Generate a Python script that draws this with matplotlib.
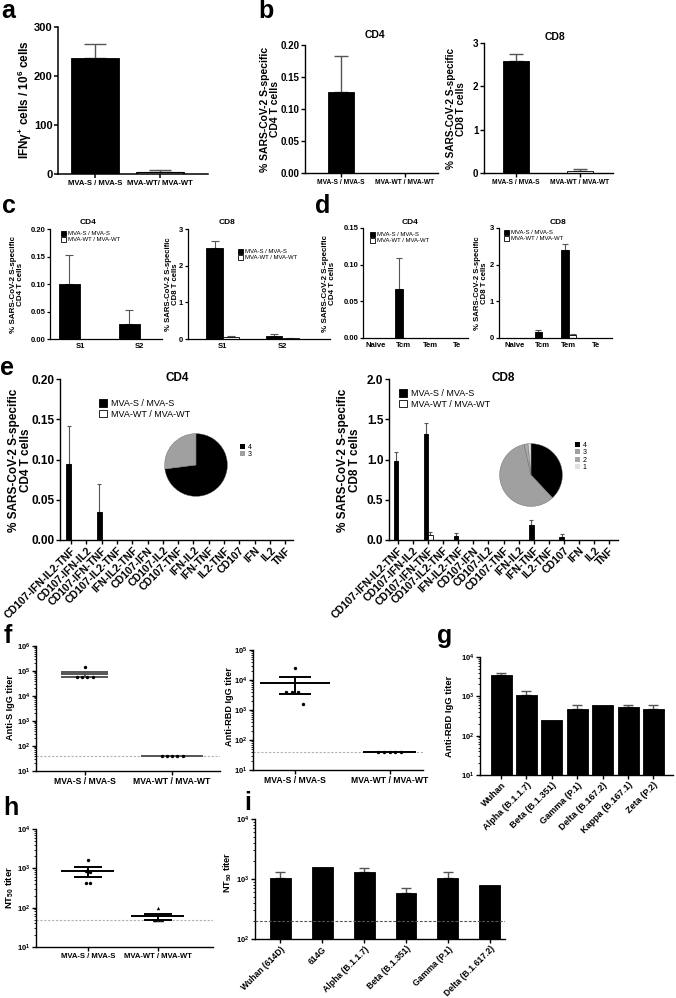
import numpy as np
import matplotlib
matplotlib.use("Agg")
import matplotlib.pyplot as plt
from matplotlib.patches import Patch
from matplotlib.ticker import FormatStrFormatter, LogLocator, NullFormatter

plt.rcParams.update({
    'font.family': ['Liberation Sans', 'DejaVu Sans'],
    'font.weight': 'bold',
    'axes.labelweight': 'bold',
    'axes.titleweight': 'bold',
    'axes.facecolor': 'none',
    'mathtext.fontset': 'custom',
    'mathtext.rm': 'Liberation Sans:bold',
    'mathtext.it': 'Liberation Sans:italic:bold',
    'mathtext.bf': 'Liberation Sans:bold',
    'mathtext.sf': 'Liberation Sans:bold',
    'mathtext.default': 'rm',
})

# ---------------- data ----------------
groups = ["MVA-S / MVA-S", "MVA-WT / MVA-WT"]
groups_a = ["MVA-S / MVA-S", "MVA-WT/ MVA-WT"]
a_vals = [237, 4]
a_sem = [28, 4]

b_cd4_vals = [0.127, 0.0]
b_cd4_sem = [0.056, 0.0]
b_cd8_vals = [2.58, 0.046]
b_cd8_sem = [0.17, 0.05]

c_cats = ["S1", "S2"]
c_cd4_s = [0.100, 0.027]
c_cd4_s_sem = [0.052, 0.026]
c_cd4_wt = [0.0, 0.0]
c_cd4_wt_sem = [0.0, 0.0]
c_cd8_s = [2.48, 0.09]
c_cd8_s_sem = [0.19, 0.045]
c_cd8_wt = [0.055, 0.018]
c_cd8_wt_sem = [0.03, 0.018]

d_cats = ["Naive", "Tcm", "Tem", "Te"]
d_cd4_s = [0.0, 0.067, 0.0, 0.0]
d_cd4_s_sem = [0.0, 0.042, 0.0, 0.0]
d_cd4_wt = [0.0, 0.0, 0.0, 0.0]
d_cd8_s = [0.0, 0.163, 2.40, 0.0]
d_cd8_s_sem = [0.0, 0.063, 0.17, 0.0]
d_cd8_wt = [0.0, 0.0, 0.07, 0.0]
d_cd8_wt_sem = [0.0, 0.0, 0.03, 0.0]

e_cats = ["CD107-IFN-IL2-TNF", "CD107-IFN-IL2", "CD107-IFN-TNF", "CD107-IL2-TNF",
          "IFN-IL2-TNF", "CD107-IFN", "CD107-IL2", "CD107-TNF", "IFN-IL2", "IFN-TNF",
          "IL2-TNF", "CD107", "IFN", "IL2", "TNF"]
e_cd4_s = [0.094, 0, 0.035, 0, 0, 0, 0, 0, 0, 0, 0, 0, 0, 0, 0]
e_cd4_s_sem = [0.047, 0, 0.035, 0, 0, 0, 0, 0, 0, 0, 0, 0, 0, 0, 0]
e_cd4_wt = [0] * 15
e_cd8_s = [0.98, 0, 1.32, 0, 0.054, 0, 0, 0, 0, 0.19, 0, 0.042, 0, 0, 0]
e_cd8_s_sem = [0.11, 0, 0.135, 0, 0.03, 0, 0, 0, 0, 0.06, 0, 0.033, 0, 0, 0]
e_cd8_wt = [0, 0, 0.067, 0, 0, 0, 0, 0, 0, 0, 0, 0, 0, 0, 0]
e_cd8_wt_sem = [0, 0, 0.03, 0, 0, 0, 0, 0, 0, 0, 0, 0, 0, 0, 0]

pie_cd4_labels = ["4", "3"]
pie_cd4_vals = [73, 27]
pie_cd8_labels = ["4", "3", "2", "1"]
pie_cd8_vals = [38, 58.5, 2, 1.5]

f_antiS_s = [1.45e5, 6.0e4, 6.0e4, 6.0e4, 6.0e4]
f_antiS_wt = [40, 40, 40, 40, 40]
f_rbd_s = [2.6e4, 4.1e3, 4.1e3, 4.1e3, 1.6e3]
f_rbd_wt = [40, 40, 40, 40, 40]
f_cutoff = 40

g_cats = ["Wuhan", "Alpha (B.1.1.7)", "Beta (B.1.351)", "Gamma (P.1)",
          "Delta (B.167.2)", "Kappa (B.167.1)", "Zeta (P.2)"]
g_vals = [3470, 1075, 245, 490, 610, 545, 490]
g_sem = [530, 305, 0, 125, 0, 70, 125]

h_s = [1660, 850, 800, 425, 425]
h_wt = [100, 50, 50, 50, 50]
h_cutoff = 50

i_cats = ["Wuhan (614D)", "614G", "Alpha (B.1.1.7)", "Beta (B.1.351)",
          "Gamma (P.1)", "Delta (B.1.617.2)"]
i_vals = [1040, 1580, 1300, 590, 1040, 790]
i_sem = [290, 0, 250, 120, 290, 0]
i_cutoff = 200

# ---------------- layout helpers ----------------
W, H = 676, 998
fig = plt.figure(figsize=(W / 100, H / 100), dpi=100)
ECOL = '#555555'


def axpx(l, t, r, b):
    return fig.add_axes([l / W, 1 - b / H, (r - l) / W, (b - t) / H])


def style(ax, fs=7, lw=1.0, tl=3):
    for s in ['top', 'right']:
        ax.spines[s].set_visible(False)
    for s in ['left', 'bottom']:
        ax.spines[s].set_linewidth(lw)
    ax.tick_params(width=lw, length=tl, labelsize=fs, pad=1)


def ftext(x, y, s, fs, **kw):
    kw.setdefault('ha', 'center')
    kw.setdefault('va', 'center')
    fig.text(x / W, 1 - y / H, s, fontsize=fs, fontweight='bold', **kw)


def ylab(x, y, s, fs, ls=1.1):
    fig.text(x / W, 1 - y / H, s, fontsize=fs, fontweight='bold', rotation=90,
             ha='center', va='center', linespacing=ls, multialignment='center')


def letter(x, y, s):
    fig.text(x / W, 1 - y / H, s, fontsize=18, fontweight='bold', ha='left', va='baseline')


def legend2(x, y, fs, hl=0.9, labels=("MVA-S / MVA-S", "MVA-WT / MVA-WT"),
            colors=('black', 'white'), edge='black', sp=0.15):
    handles = [Patch(facecolor=c, edgecolor=edge, linewidth=0.6) for c in colors]
    fig.legend(handles, labels, loc='upper left', bbox_to_anchor=(x / W, 1 - y / H),
               frameon=False, prop={'size': fs, 'weight': 'normal'},
               handlelength=hl, handleheight=hl, handletextpad=0.4,
               labelspacing=sp, borderpad=0, borderaxespad=0)


def ebar(ax, x, vals, sems, w, color, elw=1.0, cap=3):
    ax.bar(x, vals, w, color=color, edgecolor='black', linewidth=0.6, zorder=2)
    vals = np.asarray(vals, float)
    sems = np.asarray(sems, float)
    m = sems > 0
    xs = np.asarray(x, float)[m]
    ax.errorbar(xs, vals[m], yerr=[np.zeros(m.sum()), sems[m]], fmt='none',
                ecolor=ECOL, elinewidth=elw, capsize=cap, capthick=elw, zorder=1)


def grouped(ax, xs, s, ssem, wt, wtsem, w, cap=2):
    xs = np.asarray(xs, float)
    ebar(ax, xs - w / 2, s, ssem, w, 'black', elw=0.8, cap=cap)
    ebar(ax, xs + w / 2, wt, wtsem, w, 'white', elw=0.8, cap=cap)


# ---------------- panel a ----------------
ax = axpx(58, 27, 208, 174)
style(ax, fs=8, lw=1.1)
x = np.arange(2)
ebar(ax, x, a_vals, a_sem, 0.74, 'black', elw=1.0, cap=8)
ax.bar(1, a_vals[1], 0.7, color='white', edgecolor='black', linewidth=0.8, zorder=2)
ax.set_xlim(-0.57, 1.74)
ax.set_ylim(0, 300)
ax.set_yticks([0, 100, 200, 300])
ax.set_xticks(x)
ax.set_xticklabels(groups_a, fontsize=5.5)
ax.tick_params(axis='x', length=3)
ylab(25, 100, r'IFN$\gamma^{+}$ cells / 10$^{6}$ cells', 8.5)
letter(1, 18, 'a')

# ---------------- panel b ----------------
ax = axpx(305, 45, 438, 173)
style(ax, fs=7, lw=1.0)
ebar(ax, x, b_cd4_vals, b_cd4_sem, 0.4, 'black', cap=5)
ax.set_xlim(-0.56, 1.52)
ax.set_ylim(0, 0.2)
ax.set_yticks([0, 0.05, 0.10, 0.15, 0.20])
ax.yaxis.set_major_formatter(FormatStrFormatter('%.2f'))
ax.set_xticks(x)
ax.set_xticklabels(groups, fontsize=4.8)
ftext(375, 35, 'CD4', 7.5)
ylab(270, 109, '% SARS-CoV-2 S-specific\nCD4 T cells', 7.5)

ax = axpx(484, 43, 613, 173)
style(ax, fs=7, lw=1.0)
ebar(ax, [0], b_cd8_vals[:1], b_cd8_sem[:1], 0.4, 'black', cap=5)
ebar(ax, [1], b_cd8_vals[1:], b_cd8_sem[1:], 0.4, 'white', cap=5)
ax.set_xlim(-0.5, 1.52)
ax.set_ylim(0, 3)
ax.set_yticks([0, 1, 2, 3])
ax.set_xticks(x)
ax.set_xticklabels(groups, fontsize=4.8)
ftext(555, 37, 'CD8', 7.5)
ylab(456, 109, '% SARS-CoV-2 S-specific\nCD8 T cells', 7.2)
letter(258, 18, 'b')

# ---------------- panel c ----------------
ax = axpx(50, 229, 162, 339)
style(ax, fs=5.5, lw=0.9, tl=2.5)
grouped(ax, np.arange(2), c_cd4_s, c_cd4_s_sem, c_cd4_wt, c_cd4_wt_sem, 0.35, cap=3)
ax.set_xlim(-0.5, 1.37)
ax.set_ylim(0, 0.2)
ax.set_yticks([0, 0.05, 0.10, 0.15, 0.20])
ax.yaxis.set_major_formatter(FormatStrFormatter('%.2f'))
ax.set_xticks([0, 1])
ax.set_xticklabels(c_cats, fontsize=5.5)
ax.tick_params(axis='x', length=0, pad=3)
ftext(88, 222, 'CD4', 6)
ylab(17, 284, '% SARS-CoV-2 S-specific\nCD4 T cells', 5.8)
legend2(61, 231, 4.3, hl=0.8, sp=0.1)

ax = axpx(188, 229, 330, 339)
style(ax, fs=5.5, lw=0.9, tl=2.5)
grouped(ax, np.arange(2), c_cd8_s, c_cd8_s_sem, c_cd8_wt, c_cd8_wt_sem, 0.28, cap=3)
ax.set_xlim(-0.59, 1.81)
ax.set_ylim(0, 3)
ax.set_yticks([0, 1, 2, 3])
ax.set_xticks([0, 1])
ax.set_xticklabels(c_cats, fontsize=5.5)
ax.tick_params(axis='x', length=0, pad=3)
ftext(227, 222, 'CD8', 6)
ylab(172, 284, '% SARS-CoV-2 S-specific\nCD8 T cells', 5.6)
legend2(238, 249, 4.3, hl=0.8, sp=0.1)
letter(2, 213, 'c')

# ---------------- panel d ----------------
ax = axpx(363, 228, 468, 338)
style(ax, fs=5.5, lw=0.9, tl=2.5)
grouped(ax, np.arange(4), d_cd4_s, d_cd4_s_sem, d_cd4_wt, [0] * 4, 0.28, cap=2)
ax.set_xlim(-0.48, 3.4)
ax.set_ylim(0, 0.15)
ax.set_yticks([0, 0.05, 0.10, 0.15])
ax.yaxis.set_major_formatter(FormatStrFormatter('%.2f'))
ax.set_xticks(np.arange(4))
ax.set_xticklabels(d_cats, fontsize=5.5)
ax.tick_params(axis='x', length=0, pad=3)
ftext(410, 222, 'CD4', 6)
ylab(329, 283, '% SARS-CoV-2 S-specific\nCD4 T cells', 5.8)
legend2(370, 232, 4.3, hl=0.8, sp=0.1)

ax = axpx(499, 228, 612, 338)
style(ax, fs=5.5, lw=0.9, tl=2.5)
grouped(ax, np.arange(4), d_cd8_s, d_cd8_s_sem, d_cd8_wt, d_cd8_wt_sem, 0.28, cap=2)
ax.set_xlim(-0.6, 3.6)
ax.set_ylim(0, 3)
ax.set_yticks([0, 1, 2, 3])
ax.set_xticks(np.arange(4))
ax.set_xticklabels(d_cats, fontsize=5.5)
ax.tick_params(axis='x', length=0, pad=3)
ftext(558, 222, 'CD8', 6)
ylab(481, 283, '% SARS-CoV-2 S-specific\nCD8 T cells', 5.6)
legend2(504, 230, 4.3, hl=0.8, sp=0.1)
letter(315, 213, 'd')

# ---------------- panel e ----------------
xe = np.arange(len(e_cats))
ax = axpx(60, 379, 293, 540)
style(ax, fs=8.5, lw=1.0)
grouped(ax, xe, e_cd4_s, e_cd4_s_sem, e_cd4_wt, [0] * 15, 0.3, cap=1.5)
ax.set_xlim(-0.72, 14.5)
ax.set_ylim(0, 0.2)
ax.set_yticks([0, 0.05, 0.10, 0.15, 0.20])
ax.yaxis.set_major_formatter(FormatStrFormatter('%.2f'))
ax.set_xticks(xe)
ax.set_xticklabels(e_cats, fontsize=7.6, rotation=45, ha='right', rotation_mode='anchor')
ftext(177, 378, 'CD4', 8.5)
ylab(20, 460, '% SARS-CoV-2 S-specific\nCD4 T cells', 8.5)
legend2(99, 399, 6.5, hl=0.9, sp=0.2)

pax = axpx(164, 433, 228, 497)
pax.pie(pie_cd4_vals, colors=['black', '#a0a0a0'], startangle=90, counterclock=False,
        wedgeprops=dict(linewidth=0.3, edgecolor='#666666'))
pax.set_xlim(-1.02, 1.02)
pax.set_ylim(-1.02, 1.02)
pax.set_aspect('equal')
legend2(240, 444, 5, hl=0.7, labels=pie_cd4_labels, colors=('black', '#a0a0a0'),
        edge='none', sp=0.05)

ax = axpx(389, 379, 618, 540)
style(ax, fs=8.5, lw=1.0)
grouped(ax, xe, e_cd8_s, e_cd8_s_sem, e_cd8_wt, e_cd8_wt_sem, 0.3, cap=1.5)
ax.set_xlim(-0.6, 14.6)
ax.set_ylim(0, 2.0)
ax.set_yticks([0, 0.5, 1.0, 1.5, 2.0])
ax.yaxis.set_major_formatter(FormatStrFormatter('%.1f'))
ax.set_xticks(xe)
ax.set_xticklabels(e_cats, fontsize=7.6, rotation=45, ha='right', rotation_mode='anchor')
ftext(503, 378, 'CD8', 8.5)
ylab(349, 460, '% SARS-CoV-2 S-specific\nCD8 T cells', 8.5)
legend2(399, 389, 6.5, hl=0.9, sp=0.2)

pax = axpx(499, 443, 563, 507)
pax.pie(pie_cd8_vals, colors=['black', '#a0a0a0', '#a8a8a8', '#e0e0e0'], startangle=90,
        counterclock=False, wedgeprops=dict(linewidth=0.3, edgecolor='#666666'))
pax.set_xlim(-1.02, 1.02)
pax.set_ylim(-1.02, 1.02)
pax.set_aspect('equal')
legend2(575, 442, 5, hl=0.7, labels=pie_cd8_labels,
        colors=('black', '#a0a0a0', '#a8a8a8', '#e0e0e0'), edge='none', sp=0.05)
letter(0, 375, 'e')


# ---------------- scatter helpers ----------------
def logstyle(ax, lo, hi, fs=5.5):
    ax.set_yscale('log')
    ax.set_ylim(lo, hi)
    ax.yaxis.set_major_locator(LogLocator(base=10, numticks=10))
    ax.yaxis.set_minor_locator(LogLocator(base=10, subs=np.arange(2, 10), numticks=30))
    ax.yaxis.set_minor_formatter(NullFormatter())
    ax.tick_params(axis='y', which='minor', length=1.5, width=0.6)
    ax.tick_params(axis='y', which='major', labelsize=fs)


def dotgroup(ax, pos, pts, offs, col='black', lcol='black', mw=0.3, cw=0.16, marker='o', ms=6, lw=1.4):
    pts = np.asarray(pts, float)
    m = pts.mean()
    s = pts.std(ddof=1) / np.sqrt(len(pts))
    ax.scatter(pos + np.asarray(offs), pts, s=ms, color=col, marker=marker, zorder=3, linewidths=0)
    ax.hlines(m, pos - mw, pos + mw, color=lcol, lw=lw, zorder=2)
    if s > 0:
        ax.hlines([m - s, m + s], pos - cw, pos + cw, color=lcol, lw=lw, zorder=2)
        ax.vlines(pos, m - s, m + s, color=lcol, lw=lw, zorder=2)


offs5 = [0.0, -0.09, -0.03, 0.03, 0.09]
offs_flat = [-0.12, -0.06, 0.0, 0.06, 0.12]

# ---------------- panel f ----------------
ax = axpx(36, 646, 220, 771)
style(ax, fs=5.5, lw=1.0)
logstyle(ax, 10, 1e6)
dotgroup(ax, 0, f_antiS_s, offs5, lcol='#555555', mw=0.27, cw=0.27)
dotgroup(ax, 1, f_antiS_wt, offs_flat, lcol='#555555', mw=0.36, cw=0.36)
ax.axhline(f_cutoff, color='#b0b0b0', lw=0.8, ls=(0, (2, 1.5)), zorder=0)
ax.set_xlim(-0.56, 1.55)
ax.set_xticks([0, 1])
ax.set_xticklabels(groups, fontsize=6.2)
ax.tick_params(axis='x', length=3)
ylab(11, 707, 'Anti-S IgG titer', 6.6)
letter(4, 643, 'f')

ax = axpx(253, 650, 423, 770)
style(ax, fs=5.5, lw=1.0)
logstyle(ax, 10, 1e5)
dotgroup(ax, 0, f_rbd_s, offs5, mw=0.37, cw=0.17)
dotgroup(ax, 1, f_rbd_wt, offs_flat, mw=0.28, cw=0.28)
ax.axhline(f_cutoff, color='#b0b0b0', lw=0.8, ls=(0, (2, 1.5)), zorder=0)
ax.set_xlim(-0.44, 1.35)
ax.set_xticks([0, 1])
ax.set_xticklabels(groups, fontsize=6.2)
ax.tick_params(axis='x', length=3)
ylab(229, 707, 'Anti-RBD IgG titer', 6.6)

# ---------------- panel g ----------------
ax = axpx(480, 657, 673, 775)
style(ax, fs=5.5, lw=1.0)
logstyle(ax, 10, 1e4)
xg = np.arange(len(g_cats))
ebar(ax, xg, g_vals, g_sem, 0.83, 'black', elw=1.0, cap=3.5)
ax.set_xlim(-0.83, 6.77)
ax.set_xticks(xg)
ax.set_xticklabels(g_cats, fontsize=6.6, rotation=45, ha='right', rotation_mode='anchor')
ylab(450, 716, 'Anti-RBD IgG titer', 6.8)
letter(437, 643, 'g')

# ---------------- panel h ----------------
ax = axpx(36, 829, 213, 947)
style(ax, fs=5.5, lw=1.0)
logstyle(ax, 10, 1e4)
dotgroup(ax, 0, h_s, [0.0, -0.02, 0.03, -0.03, 0.03], mw=0.38, cw=0.2)
dotgroup(ax, 1, h_wt, [0.0, -0.06, -0.02, 0.02, 0.06], marker='^', mw=0.38, cw=0.2)
ax.axhline(h_cutoff, color='#b0b0b0', lw=0.8, ls=(0, (2, 1.5)), zorder=0)
ax.set_xlim(-0.74, 1.79)
ax.set_xticks([0, 1])
ax.set_xticklabels(groups, fontsize=5.5)
ax.tick_params(axis='x', length=3)
ylab(10, 888, r'NT$_{50}$ titer', 6.8)
letter(3, 815, 'h')

# ---------------- panel i ----------------
ax = axpx(255, 819, 505, 939)
style(ax, fs=5.5, lw=1.0)
logstyle(ax, 100, 1e4)
xi = np.arange(len(i_cats))
ebar(ax, xi, i_vals, i_sem, 0.5, 'black', elw=1.0, cap=3.5)
ax.axhline(i_cutoff, color='#555555', lw=0.8, ls=(0, (2.5, 1.5)), zorder=3)
ax.set_xlim(-0.6, 5.36)
ax.set_xticks(xi)
ax.set_xticklabels(i_cats, fontsize=6.2, rotation=45, ha='right', rotation_mode='anchor')
ylab(228, 872, r'NT$_{50}$ titer', 6.6)
letter(244, 810, 'i')

fig.savefig('out.png', dpi=100)
